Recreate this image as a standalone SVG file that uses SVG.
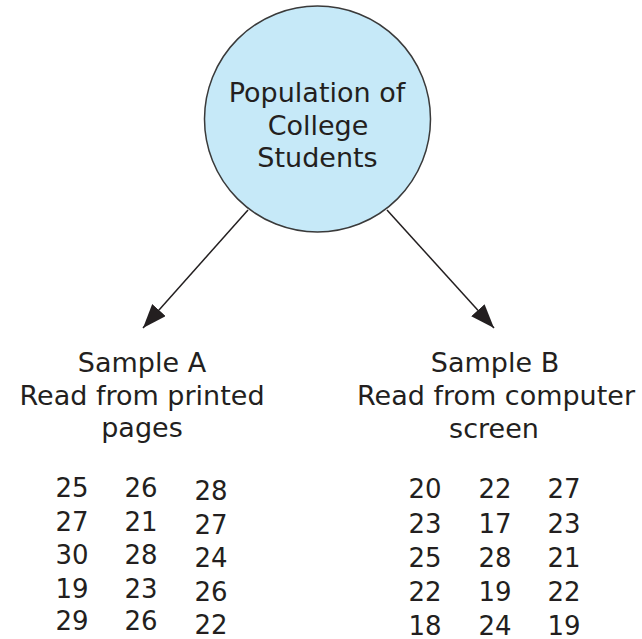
<svg xmlns="http://www.w3.org/2000/svg" width="642" height="639" viewBox="0 0 642 639">
<defs>
<style>
text{font-family:"DejaVu Sans","Liberation Sans",sans-serif;fill:#231f20;text-anchor:middle}
.t{font-size:27px}
.n{font-size:26px}
.edge{stroke:#231f20;stroke-width:1.5;fill:none;marker-end:url(#ah)}
</style>
<marker id="ah" markerUnits="userSpaceOnUse" markerWidth="26" markerHeight="20" refX="24" refY="9" orient="auto">
<path d="M0,0 L24,9 L0,18 Z" fill="#231f20"/>
</marker>
</defs>
<rect width="642" height="639" fill="#fff"/>
<g id="population">
<circle cx="317.5" cy="119" r="113" fill="#c6e9f8" stroke="#3a3a3a" stroke-width="1.5"/>
<text class="t" x="317" y="102">Population of</text>
<text class="t" x="318" y="135">College</text>
<text class="t" x="317.5" y="167">Students</text>
</g>
<g id="connectors">
<line class="edge" x1="248" y1="210" x2="143" y2="328"/>
<line class="edge" x1="387" y1="210" x2="494" y2="328"/>
</g>
<g id="sampleA">
<text class="t" x="142" y="372">Sample A</text>
<text class="t" x="142" y="405">Read from printed</text>
<text class="t" x="142" y="437">pages</text>
<g class="n">
<text class="n" x="72" y="497">25</text><text class="n" x="141" y="497">26</text><text class="n" x="211" y="500">28</text>
<text class="n" x="72" y="531">27</text><text class="n" x="141" y="531">21</text><text class="n" x="211" y="534">27</text>
<text class="n" x="72" y="564">30</text><text class="n" x="141" y="564">28</text><text class="n" x="211" y="567">24</text>
<text class="n" x="72" y="598">19</text><text class="n" x="141" y="598">23</text><text class="n" x="211" y="601">26</text>
<text class="n" x="72" y="630">29</text><text class="n" x="141" y="630">26</text><text class="n" x="211" y="634">22</text>
</g>
</g>
<g id="sampleB">
<text class="t" x="495" y="372">Sample B</text>
<text class="t" x="496" y="405">Read from computer</text>
<text class="t" x="494" y="438">screen</text>
<text class="n" x="425" y="498">20</text><text class="n" x="495" y="498">22</text><text class="n" x="564" y="498">27</text>
<text class="n" x="425" y="533">23</text><text class="n" x="495" y="533">17</text><text class="n" x="564" y="533">23</text>
<text class="n" x="425" y="567">25</text><text class="n" x="495" y="567">28</text><text class="n" x="564" y="567">21</text>
<text class="n" x="425" y="601">22</text><text class="n" x="495" y="601">19</text><text class="n" x="564" y="601">22</text>
<text class="n" x="425" y="635">18</text><text class="n" x="495" y="635">24</text><text class="n" x="564" y="635">19</text>
</g>
</svg>
